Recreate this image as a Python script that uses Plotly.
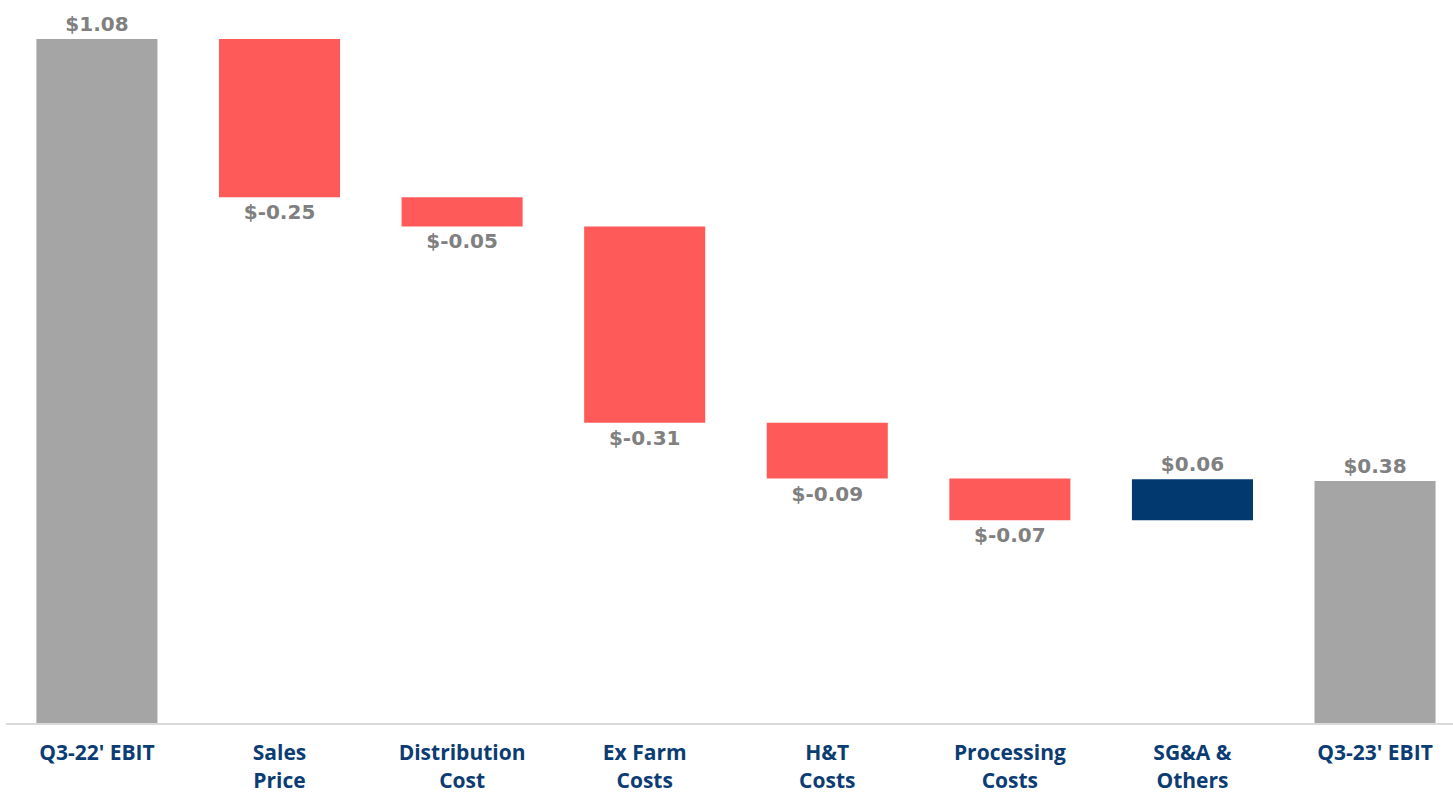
import plotly.graph_objects as go

categories = ["Q3-22' EBIT", "Sales<br>Price", "Distribution<br>Cost", "Ex Farm<br>Costs",
              "H&T<br>Costs", "Processing<br>Costs", "SG&A &<br>Others", "Q3-23' EBIT"]
values = [1.08, -0.25, -0.046, -0.31, -0.088, -0.066, 0.065, 0.382]
measures = ["absolute", "relative", "relative", "relative", "relative", "relative", "relative", "absolute"]
labels = ["$1.08", "$-0.25", "$-0.05", "$-0.31", "$-0.09", "$-0.07", "$0.06", "$0.38"]

GRAY = "#A5A5A5"
RED = "#FF5A5A"
NAVY = "#02396F"
LABEL = "#808080"
AXIS_TEXT = "#0B3C73"

fig = go.Figure(go.Waterfall(
    x=list(range(len(categories))),
    y=values,
    measure=measures,
    text=labels,
    textposition="outside",
    textfont=dict(family="DejaVu Sans", size=20, color=LABEL, weight="bold"),
    cliponaxis=False,
    width=0.663,
    connector=dict(visible=False),
    increasing=dict(marker=dict(color=NAVY)),
    decreasing=dict(marker=dict(color=RED)),
    totals=dict(marker=dict(color=GRAY)),
    hoverinfo="skip",
))

fig.update_layout(
    width=1453, height=795,
    margin=dict(l=6, r=0, t=10, b=72),
    paper_bgcolor="white", plot_bgcolor="white",
    showlegend=False,
    xaxis=dict(
        range=[-0.498, 7.427],
        tickmode="array",
        tickvals=list(range(len(categories))),
        ticktext=categories,
        tickfont=dict(family="Open Sans", size=21, color=AXIS_TEXT, weight="bold"),
        ticklabelstandoff=10,
        automargin=False,
        showline=True, linecolor="#D9D9D9", linewidth=2,
        showgrid=False, zeroline=False, ticks="",
    ),
    yaxis=dict(
        range=[0, 1.1258],
        visible=False, showgrid=False, zeroline=False,
    ),
)

fig.write_html("out.html")
